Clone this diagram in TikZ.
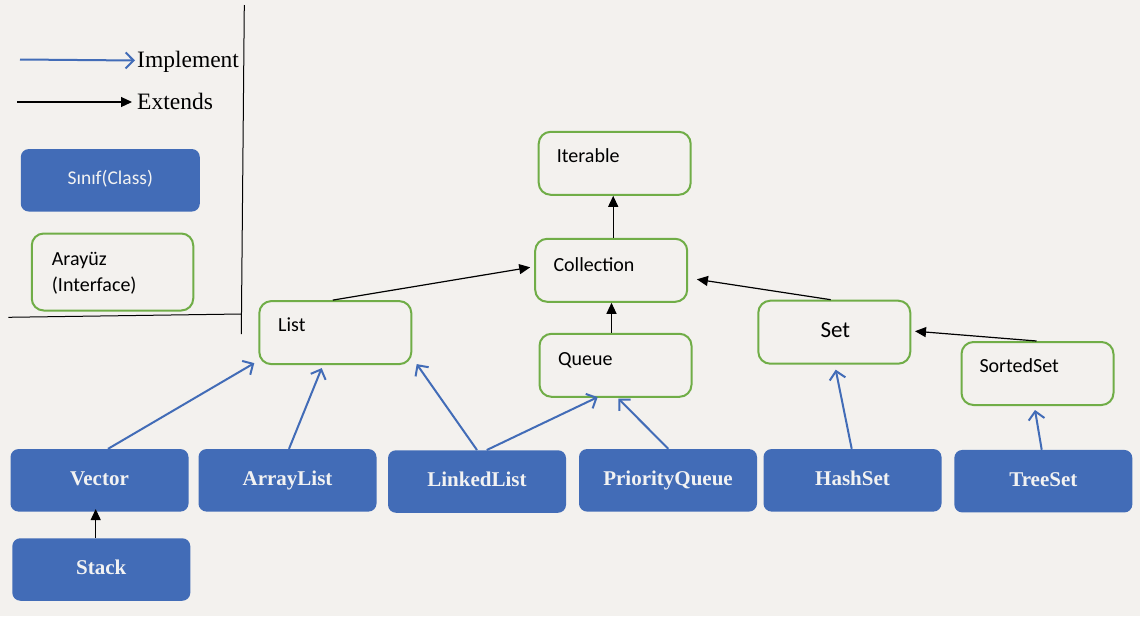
\documentclass[tikz,border=0pt]{standalone}
\usepackage{fontspec}
\setmainfont{Liberation Serif}
\newfontfamily\calibri{Carlito}
\usetikzlibrary{arrows.meta,calc}
\definecolor{bg}{RGB}{243,241,238}
\definecolor{clsblue}{RGB}{66,108,183}
\definecolor{intgreen}{RGB}{112,173,71}
\definecolor{clstext}{RGB}{242,242,242}
\tikzset{
  cls/.style={fill=clsblue, draw=none, rounded corners=8pt, minimum width=178pt, minimum height=62.5pt,
    inner sep=0pt, text=clstext, font=\bfseries\fontsize{21}{24}\selectfont, text height=14pt, text depth=4pt},
  intf/.style={draw=intgreen, line width=2pt, rounded corners=12pt, minimum width=152pt, minimum height=63pt, inner sep=0pt},
  itxt/.style={anchor=base west, inner sep=0pt, font=\calibri\fontsize{20}{26}\selectfont},
  ext/.style={draw=black, line width=1.2pt, -{Triangle[length=11pt,width=10pt]}},
  impl/.style={draw=clsblue, line width=2pt, -{Straight Barb[length=8pt,width=16pt,line width=2pt]}},
}
\begin{document}
\begin{tikzpicture}[x=1pt,y=-1pt]
\fill[bg] (0,0) rectangle (1140,616);
\useasboundingbox (0,0) rectangle (1140,616);

% legend
\coordinate (i1) at (20,59.5);
\coordinate (i2) at (135,60.5);
\draw[impl] (i1) -- (i2);
\node[anchor=base west, inner sep=0pt, font=\fontsize{23.5}{26}\selectfont] (implt) at (137,67) {Implement};
\coordinate (e1) at (17,102);
\coordinate (e2) at (132,102);
\draw[ext] (e1) -- (e2);
\node[anchor=base west, inner sep=0pt, font=\fontsize{23.5}{26}\selectfont] (extt) at (137,109) {Extends};

\node[cls, minimum width=179pt, minimum height=62.5pt, font=\calibri\fontsize{19.5}{22}\selectfont, text height=13pt, text depth=4pt] (sinif) at (110.3,180.3) {Sınıf(Class)};
\node[intf, minimum width=161.5pt, minimum height=77pt] (arayuz) at (112.5,272) {};
\node[itxt] (arayuzt1) at (51.7,265.7) {Arayüz};
\node[itxt] (arayuzt2) at (51.7,291.5) {(Interface)};

% divider
\draw[black, line width=1pt] (244.3,5) -- (241.3,334);
\draw[black, line width=1pt] (8.3,317.3) -- (241.3,314);

% interfaces
\node[intf] (iter) at (614.7,163.3) {};
\node[itxt] (itert) at (556.7,162) {Iterable};
\node[intf] (coll) at (611.2,270.3) {};
\node[itxt] (collt) at (553.3,271) {Collection};
\node[intf] (list) at (335.3,332.6) {};
\node[itxt] (listt) at (278,331.7) {List};
\node[intf] (queue) at (615.5,365.3) {};
\node[itxt] (queuet) at (558,365) {Queue};
\node[intf] (set) at (834.3,332.2) {};
\node[anchor=base, inner sep=0pt, font=\calibri\fontsize{23}{26}\selectfont] (sett) at (835.3,337.3) {Set};
\node[intf] (sorted) at (1037.5,373.5) {};
\node[itxt] (sortedt) at (979.3,372.3) {SortedSet};

% classes
\node[cls] (vector) at (99.5,480.3) {Vector};
\node[cls] (arraylist) at (287.5,480.3) {ArrayList};
\node[cls] (linkedlist) at (477,481.5) {LinkedList};
\node[cls] (pq) at (668,480.3) {PriorityQueue};
\node[cls] (hashset) at (852.5,480.3) {HashSet};
\node[cls] (treeset) at (1043.3,481.2) {TreeSet};
\node[cls] (stack) at (101.3,569.5) {Stack};

% extends
\draw[ext] ([xshift=-2.5pt]list.north) -- ([xshift=-4pt,yshift=3pt]coll.west);
\draw[ext] ([xshift=2pt]coll.north) -- ([xshift=2pt]coll.north |- iter.south);
\draw[ext] ([xshift=-4pt]queue.north) -- ([xshift=-4pt]queue.north |- coll.south);
\draw[ext] ([xshift=-3.6pt]set.north) -- ([xshift=8.7pt,yshift=-9pt]coll.east);
\draw[ext] ([xshift=-1pt]sorted.north) -- ([xshift=3.7pt,yshift=1pt]set.east);
\draw[ext] ([xshift=-5.6pt]stack.north) -- ([xshift=-5.6pt,yshift=2.7pt]stack.north |- vector.south);

% implements
\draw[impl] ([xshift=8.5pt]vector.north) -- ([xshift=-4pt,yshift=2pt]list.south west);
\draw[impl] ([xshift=1.5pt]arraylist.north) -- ([xshift=-13.6pt,yshift=-3pt]list.south);
\draw[impl] (linkedlist.north) -- ([xshift=4.4pt,yshift=1pt]list.south east);
\draw[impl] ([xshift=9.7pt]linkedlist.north) -- ([xshift=-17.8pt,yshift=0.7pt]queue.south);
\draw[impl] ([xshift=0.3pt]pq.north) -- ([xshift=2.8pt,yshift=-0.7pt]queue.south);
\draw[impl] ([xshift=-0.8pt]hashset.north) -- ([xshift=1.4pt,yshift=-5pt]set.south);
\draw[impl] ([xshift=-1.6pt]treeset.north) -- ([xshift=-2.5pt,yshift=-4pt]sorted.south);
\end{tikzpicture}
\end{document}
